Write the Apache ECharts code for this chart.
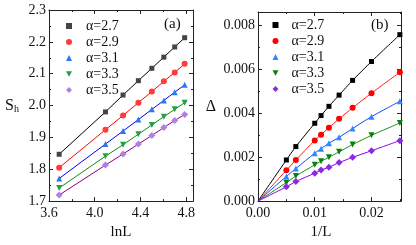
<!DOCTYPE html>
<html><head><meta charset="utf-8">
<script src="https://cdn.jsdelivr.net/npm/echarts@6/dist/echarts.min.js"></script>
<style>html,body{margin:0;padding:0;background:#fff}#c{width:416px;height:245px}</style>
</head><body><div id="c"></div><script>
const alphas = ['α=2.7','α=2.9','α=3.1','α=3.3','α=3.5'];
// panel (a): S_h vs lnL
const lnL = [3.689,4.094,4.248,4.382,4.500,4.605,4.700,4.787];
const Sh27 = [1.847,1.980,2.033,2.078,2.117,2.152,2.184,2.213];
const Sh29 = [1.805,1.924,1.969,2.009,2.044,2.076,2.104,2.131];
const Sh31 = [1.771,1.879,1.920,1.956,1.988,2.016,2.042,2.065];
const Sh33 = [1.741,1.841,1.877,1.910,1.939,1.965,1.988,2.009];
const Sh35 = [1.719,1.813,1.848,1.879,1.906,1.931,1.953,1.972];
// panel (b): Delta vs 1/L
const invL = [0.005,0.00667,0.01,0.01111,0.0125,0.01429,0.01667,0.02,0.025];
const D27 = [0.00187,0.00248,0.00354,0.00389,0.00431,0.00482,0.00549,0.00635,0.00757];
const D29 = [0.00140,0.00187,0.00276,0.00302,0.00334,0.00374,0.00424,0.00491,0.00586];
const D31 = [0.00112,0.00148,0.00218,0.00238,0.00263,0.00290,0.00330,0.00384,0.00454];
const D33 = [0.00084,0.00114,0.00165,0.00181,0.00199,0.00224,0.00257,0.00299,0.00355];
const D35 = [0.00065,0.00089,0.00127,0.00141,0.00154,0.00175,0.00199,0.00229,0.00275];
// tick labels
const xTicksA = ['3.6','4.0','4.4','4.8'];
const yTicksA = ['1.7','1.8','1.9','2.0','2.1','2.2','2.3'];
const xTicksB = ['0.00','0.01','0.02'];
const yTicksB = ['0.000','0.002','0.004','0.006','0.008'];

const SERIF = 'Liberation Serif';
const fmt = list => v => list.find(s => Math.abs(parseFloat(s) - v) < 1e-9) || '';
const invTri = 'path://M0,0L10,0L5,9Z';

function axis(kind, grid, pos, min, max, interval, labels, show) {
  return {
    type: 'value', gridIndex: grid, position: pos, min: min, max: max, interval: interval,
    axisLine: {show: true, onZero: false, lineStyle: {color: '#222', width: 1}},
    axisTick: {show: true, inside: true, length: 4, lineStyle: {color: '#222'}},
    minorTick: {show: true, splitNumber: 2, length: 2, lineStyle: {color: '#222'}},
    splitLine: {show: false},
    axisLabel: show ? {show: true, formatter: fmt(labels), fontFamily: SERIF, fontSize: 14, color: '#111',
      margin: kind === 'x' ? 5 : 3, showMaxLabel: true} : {show: false}
  };
}

const colsA = {
  mark: ['#444444','#ff3b3b','#2a78f0','#22a04a','#b27ee8'],
  line: ['#000000','#ff0000','#0000ff','#118811','#880088']
};
const colsB = {
  mark: ['#000000','#ff0000','#2f86ff','#0a800a','#8a2be2'],
  line: ['#000000','#ff1a1a','#1048ff','#179017','#8a00f0']
};
const syms = ['rect','circle','triangle','triangle','diamond'];
const rots = [0,0,0,180,0];
const sizes = [5,6,6,6,7];
const icons = ['rect','circle','triangle',invTri,'diamond'];
const seriesA = [Sh27,Sh29,Sh31,Sh33,Sh35];
const seriesB = [D27,D29,D31,D33,D35];

const series = [];
seriesA.forEach((ys, k) => {
  series.push({
    name: 'a:' + alphas[k], type: 'line', xAxisIndex: 0, yAxisIndex: 0,
    data: lnL.map((x, i) => [x, ys[i]]),
    symbol: syms[k], symbolRotate: rots[k], symbolSize: sizes[k],
    itemStyle: {color: colsA.mark[k]}, lineStyle: {color: colsA.line[k], width: 1},
    animation: false, z: 3
  });
});
seriesB.forEach((ys, k) => {
  const d = [{value: [0, 0], symbol: 'none'}].concat(invL.map((x, i) => [x, ys[i]]));
  series.push({
    name: 'b:' + alphas[k], type: 'line', xAxisIndex: 2, yAxisIndex: 2,
    data: d, smooth: 0.25,
    symbol: syms[k], symbolRotate: rots[k], symbolSize: sizes[k],
    itemStyle: {color: colsB.mark[k]}, lineStyle: {color: colsB.line[k], width: 1},
    animation: false, z: 3
  });
});

function legend(prefix, left, top, pad) {
  return {
    orient: 'vertical', left: left, top: top, itemWidth: 6, itemHeight: 6, itemGap: 0,
    selectedMode: false,
    data: alphas.map((a, k) => ({name: prefix + a, icon: icons[k]})),
    formatter: n => n.slice(2),
    textStyle: {fontFamily: SERIF, fontSize: 14, color: '#111', lineHeight: 16, padding: [0, 0, 0, pad]}
  };
}

const chart = echarts.init(document.getElementById('c'), null, {renderer: 'canvas'});
chart.setOption({
  animation: false,
  backgroundColor: '#fff',
  grid: [
    {left: 49, top: 10, width: 144, height: 192},
    {left: 258, top: 12, width: 143, height: 190.5}
  ],
  xAxis: [
    Object.assign(axis('x', 0, 'bottom', 3.6, 4.86, 0.4, xTicksA, true), {
      name: 'lnL', nameLocation: 'middle', nameGap: 20,
      nameTextStyle: {fontFamily: SERIF, fontSize: 15, color: '#111'}}),
    axis('x', 0, 'top', 3.6, 4.86, 0.4, xTicksA, false),
    Object.assign(axis('x', 1, 'bottom', 0, 0.0252, 0.01, xTicksB, true), {
      name: '1/L', nameLocation: 'middle', nameGap: 20,
      nameTextStyle: {fontFamily: SERIF, fontSize: 15, color: '#111', padding: [0, 17, 0, 0]}}),
    axis('x', 1, 'top', 0, 0.0252, 0.01, xTicksB, false)
  ],
  yAxis: [
    Object.assign(axis('y', 0, 'left', 1.7, 2.3, 0.1, yTicksA, true), {
      name: '{s|S}{h|h}', nameLocation: 'middle', nameGap: 30, nameRotate: 0,
      nameTextStyle: {rich: {
        s: {fontFamily: SERIF, fontSize: 16, color: '#111'},
        h: {fontFamily: SERIF, fontSize: 10, color: '#111', verticalAlign: 'bottom', padding: [8, 0, 0, 0]}
      }}}),
    axis('y', 0, 'right', 1.7, 2.3, 0.1, yTicksA, false),
    Object.assign(axis('y', 1, 'left', 0, 0.0086, 0.002, yTicksB, true), {
      name: 'Δ', nameLocation: 'middle', nameGap: 42, nameRotate: 0,
      nameTextStyle: {fontFamily: SERIF, fontSize: 16, color: '#111'}}),
    axis('y', 1, 'right', 0, 0.0086, 0.002, yTicksB, false)
  ],
  legend: [legend('a:', 61, 13, 9), legend('b:', 267.5, 12, 8)],
  graphic: [
    {type: 'text', left: 164, top: 17, style: {text: '(a)', font: '15px "Liberation Serif"', fill: '#111'}},
    {type: 'text', left: 371, top: 18, style: {text: '(b)', font: '15px "Liberation Serif"', fill: '#111'}}
  ],
  series: series
});
</script></body></html>
